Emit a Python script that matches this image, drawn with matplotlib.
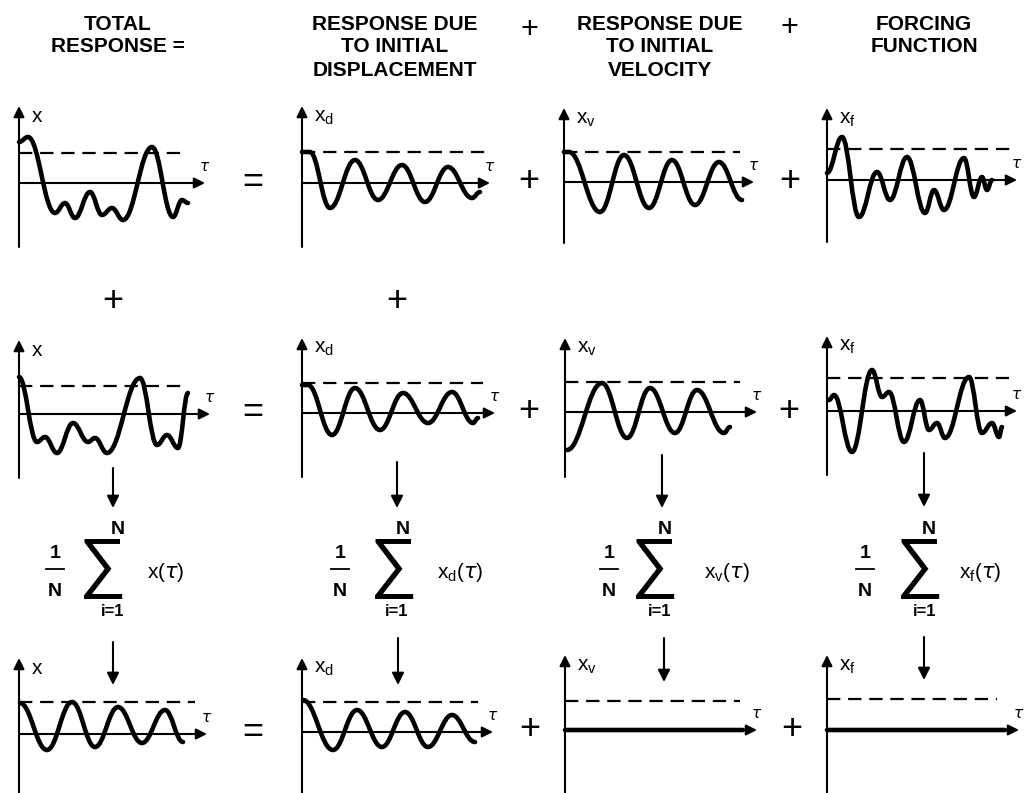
import matplotlib.pyplot as plt
from matplotlib.path import Path
from matplotlib.patches import PathPatch

plt.rcParams['font.family'] = ['Liberation Sans', 'DejaVu Sans']
plt.rcParams['mathtext.default'] = 'regular'

# curve extrema: (tau offset, x value) per panel
total_1 = [(0, 41), (9, 46), (36, -30), (46, -20), (56, -35), (71, -9), (83, -32),
           (93, -25), (104, -37), (133, 36), (154, -34), (163, -17), (169, -20)]
disp_1 = [(0, 31), (8, 31), (28, -25), (53, 23), (76, -17), (100, 18), (123, -19),
          (146, 16), (170, -15), (178, -9)]
vel_1 = [(0, 30), (5, 30), (36, -30), (60, 27), (85, -26), (108, 22), (131, -23),
         (155, 20), (178, -18)]
force_1 = [(0, 7), (15, 43), (32, -37), (50, 8), (63, -20), (80, 23), (98, -33),
           (107, -10), (117, -30), (137, 22), (147, -17), (155, 3), (160, -10), (165, 0)]

total_2 = [(0, 37), (18, -28), (26, -23), (38, -39), (54, -9), (69, -28), (76, -24),
           (88, -39), (121, 36), (138, -31), (148, -21), (159, -34), (169, 21)]
disp_2 = [(0, 28), (6, 28), (30, -22), (53, 25), (78, -17), (101, 20), (126, -10),
          (150, 21), (171, -10), (176, -5)]
vel_2 = [(2, -38), (37, 29), (62, -26), (85, 24), (110, -21), (132, 22), (159, -21),
         (165, -15)]
force_2 = [(2, 11), (7, 16), (25, -41), (45, 41), (55, 14), (62, 19), (77, -31),
           (93, 11), (102, -19), (110, -12), (118, -27), (142, 34), (155, -22),
           (165, -12), (172, -26), (175, -16)]

mean_total = [(1, 31), (28, -16), (53, 32), (76, -13), (99, 27), (123, -9), (146, 24),
              (164, -8)]
mean_disp = [(1, 32), (31, -18), (55, 22), (80, -15), (103, 20), (126, -15), (150, 17),
             (173, -10)]
mean_vel = [(0, 0), (178, 0)]
mean_force = [(0, 0), (178, 0)]

headers = [["TOTAL", "RESPONSE ="],
           ["RESPONSE DUE", "TO INITIAL", "DISPLACEMENT"],
           ["RESPONSE DUE", "TO INITIAL", "VELOCITY"],
           ["FORCING", "FUNCTION"]]
labels = ['x', 'x_d', 'x_v', 'x_f']

fig = plt.figure(figsize=(10.24, 7.93), dpi=100)
ax = fig.add_axes([0, 0, 1, 1])
ax.set_xlim(0, 1024)
ax.set_ylim(793, 0)
ax.axis('off')

# panel layout: origin x, origin y, axis top, axis bottom, dashed y, dashed end, tau tip
panels = [
    [(19, 183, 106, 247, 153, 187, 205), (302, 183, 106, 247, 152, 487, 490),
     (564, 182, 108, 243, 152, 740, 754), (827, 180, 108, 242, 149, 1012, 1017)],
    [(19, 414, 340, 478, 386, 183, 210), (302, 413, 338, 477, 383, 483, 495),
     (565, 412, 338, 477, 382, 740, 757), (827, 411, 336, 475, 378, 1009, 1017)],
    [(19, 734, 658, 800, 702, 195, 207), (302, 732, 658, 800, 702, 478, 493),
     (565, 730, 655, 800, 701, 740, 757), (827, 730, 655, 800, 699, 997, 1019)],
]
curves = [[total_1, disp_1, vel_1, force_1],
          [total_2, disp_2, vel_2, force_2],
          [mean_total, mean_disp, mean_vel, mean_force]]


def wave(pts, ox, oy, lw=3.3):
    verts = [(ox + pts[0][0], oy - pts[0][1])]
    codes = [Path.MOVETO]
    for (t0, v0), (t1, v1) in zip(pts[:-1], pts[1:]):
        d = (t1 - t0) * 0.4
        verts += [(ox + t0 + d, oy - v0), (ox + t1 - d, oy - v1), (ox + t1, oy - v1)]
        codes += [Path.CURVE4] * 3
    ax.add_patch(PathPatch(Path(verts, codes), fill=False, lw=lw, color='black',
                           capstyle='round', joinstyle='round'))


def arrow(x0, y0, x1, y1, ms=16, lw=1.5):
    ax.annotate('', xy=(x1, y1), xytext=(x0, y0),
                arrowprops=dict(arrowstyle='-|>', color='black', lw=lw,
                                mutation_scale=ms, shrinkA=0, shrinkB=0))


for r, row in enumerate(panels):
    for c, (ox, oy, top, bot, dy, dend, tip) in enumerate(row):
        arrow(ox, bot, ox, top)
        arrow(ox, oy, tip, oy)
        ax.plot([ox, dend], [dy, dy], color='black', lw=1.6, ls=(0, (6, 3.5)))
        ax.text(ox + 12, top + 11, '$' + labels[c] + '$', fontsize=15,
                ha='left', va='center')
        ax.text(tip, oy - 16, r'$\mathit{\tau}$', fontsize=11, ha='center', va='center')
        wave(curves[r][c], ox, oy)

# headers
head_x = [118, 395, 660, 924]
for hx, lines in zip(head_x, headers):
    for i, s in enumerate(lines):
        ax.text(hx, 24 + 23 * i, s, fontsize=15, fontweight='bold',
                ha='center', va='center')
for px, py in [(529, 30), (789, 28)]:
    ax.text(px, py, '+', fontsize=22, ha='center', va='center')

# operators between panels
for py in [183, 413, 732]:
    ax.text(253, py, '=', fontsize=26, ha='center', va='center')
for px, py in [(529, 182), (790, 182), (529, 412), (789, 412), (530, 730), (792, 730),
               (113, 302), (397, 302)]:
    ax.text(px, py, '+', fontsize=26, ha='center', va='center')

# averaging formulas
form = [(55, 101, 118, 113, 147, 'x'), (340, 392, 403, 397, 437, 'x_d'),
        (609, 653, 665, 660, 704, 'x_v'), (865, 918, 929, 925, 959, 'x_f')]
for one_x, sig_x, ntop_x, i_x, ex_x, lab in form:
    ax.text(one_x, 553, '1', fontsize=14, fontweight='bold', ha='center', va='center')
    ax.plot([one_x - 9, one_x + 9], [569, 569], color='black', lw=1.3)
    ax.text(one_x, 591, 'N', fontsize=14, fontweight='bold', ha='center', va='center')
    ax.text(sig_x, 569, r'$\sum$', math_fontfamily='cm', fontsize=48,
            ha='center', va='center')
    ax.text(ntop_x, 530, 'N', fontsize=14, fontweight='bold', ha='center', va='center')
    ax.text(i_x, 612, 'i=1', fontsize=12, fontweight='bold', ha='center', va='center')
    ax.text(ex_x, 573, '$' + lab + r'(\mathit{\tau})$', fontsize=15,
            ha='left', va='center')

# down arrows
for x, y0, y1 in [(113, 468, 508), (397, 462, 508), (662, 455, 508), (924, 453, 507),
                  (113, 642, 685), (398, 638, 685), (664, 638, 682), (924, 637, 680)]:
    arrow(x, y0, x, y1, ms=18, lw=1.5)

fig.savefig('out.png', dpi=100)
